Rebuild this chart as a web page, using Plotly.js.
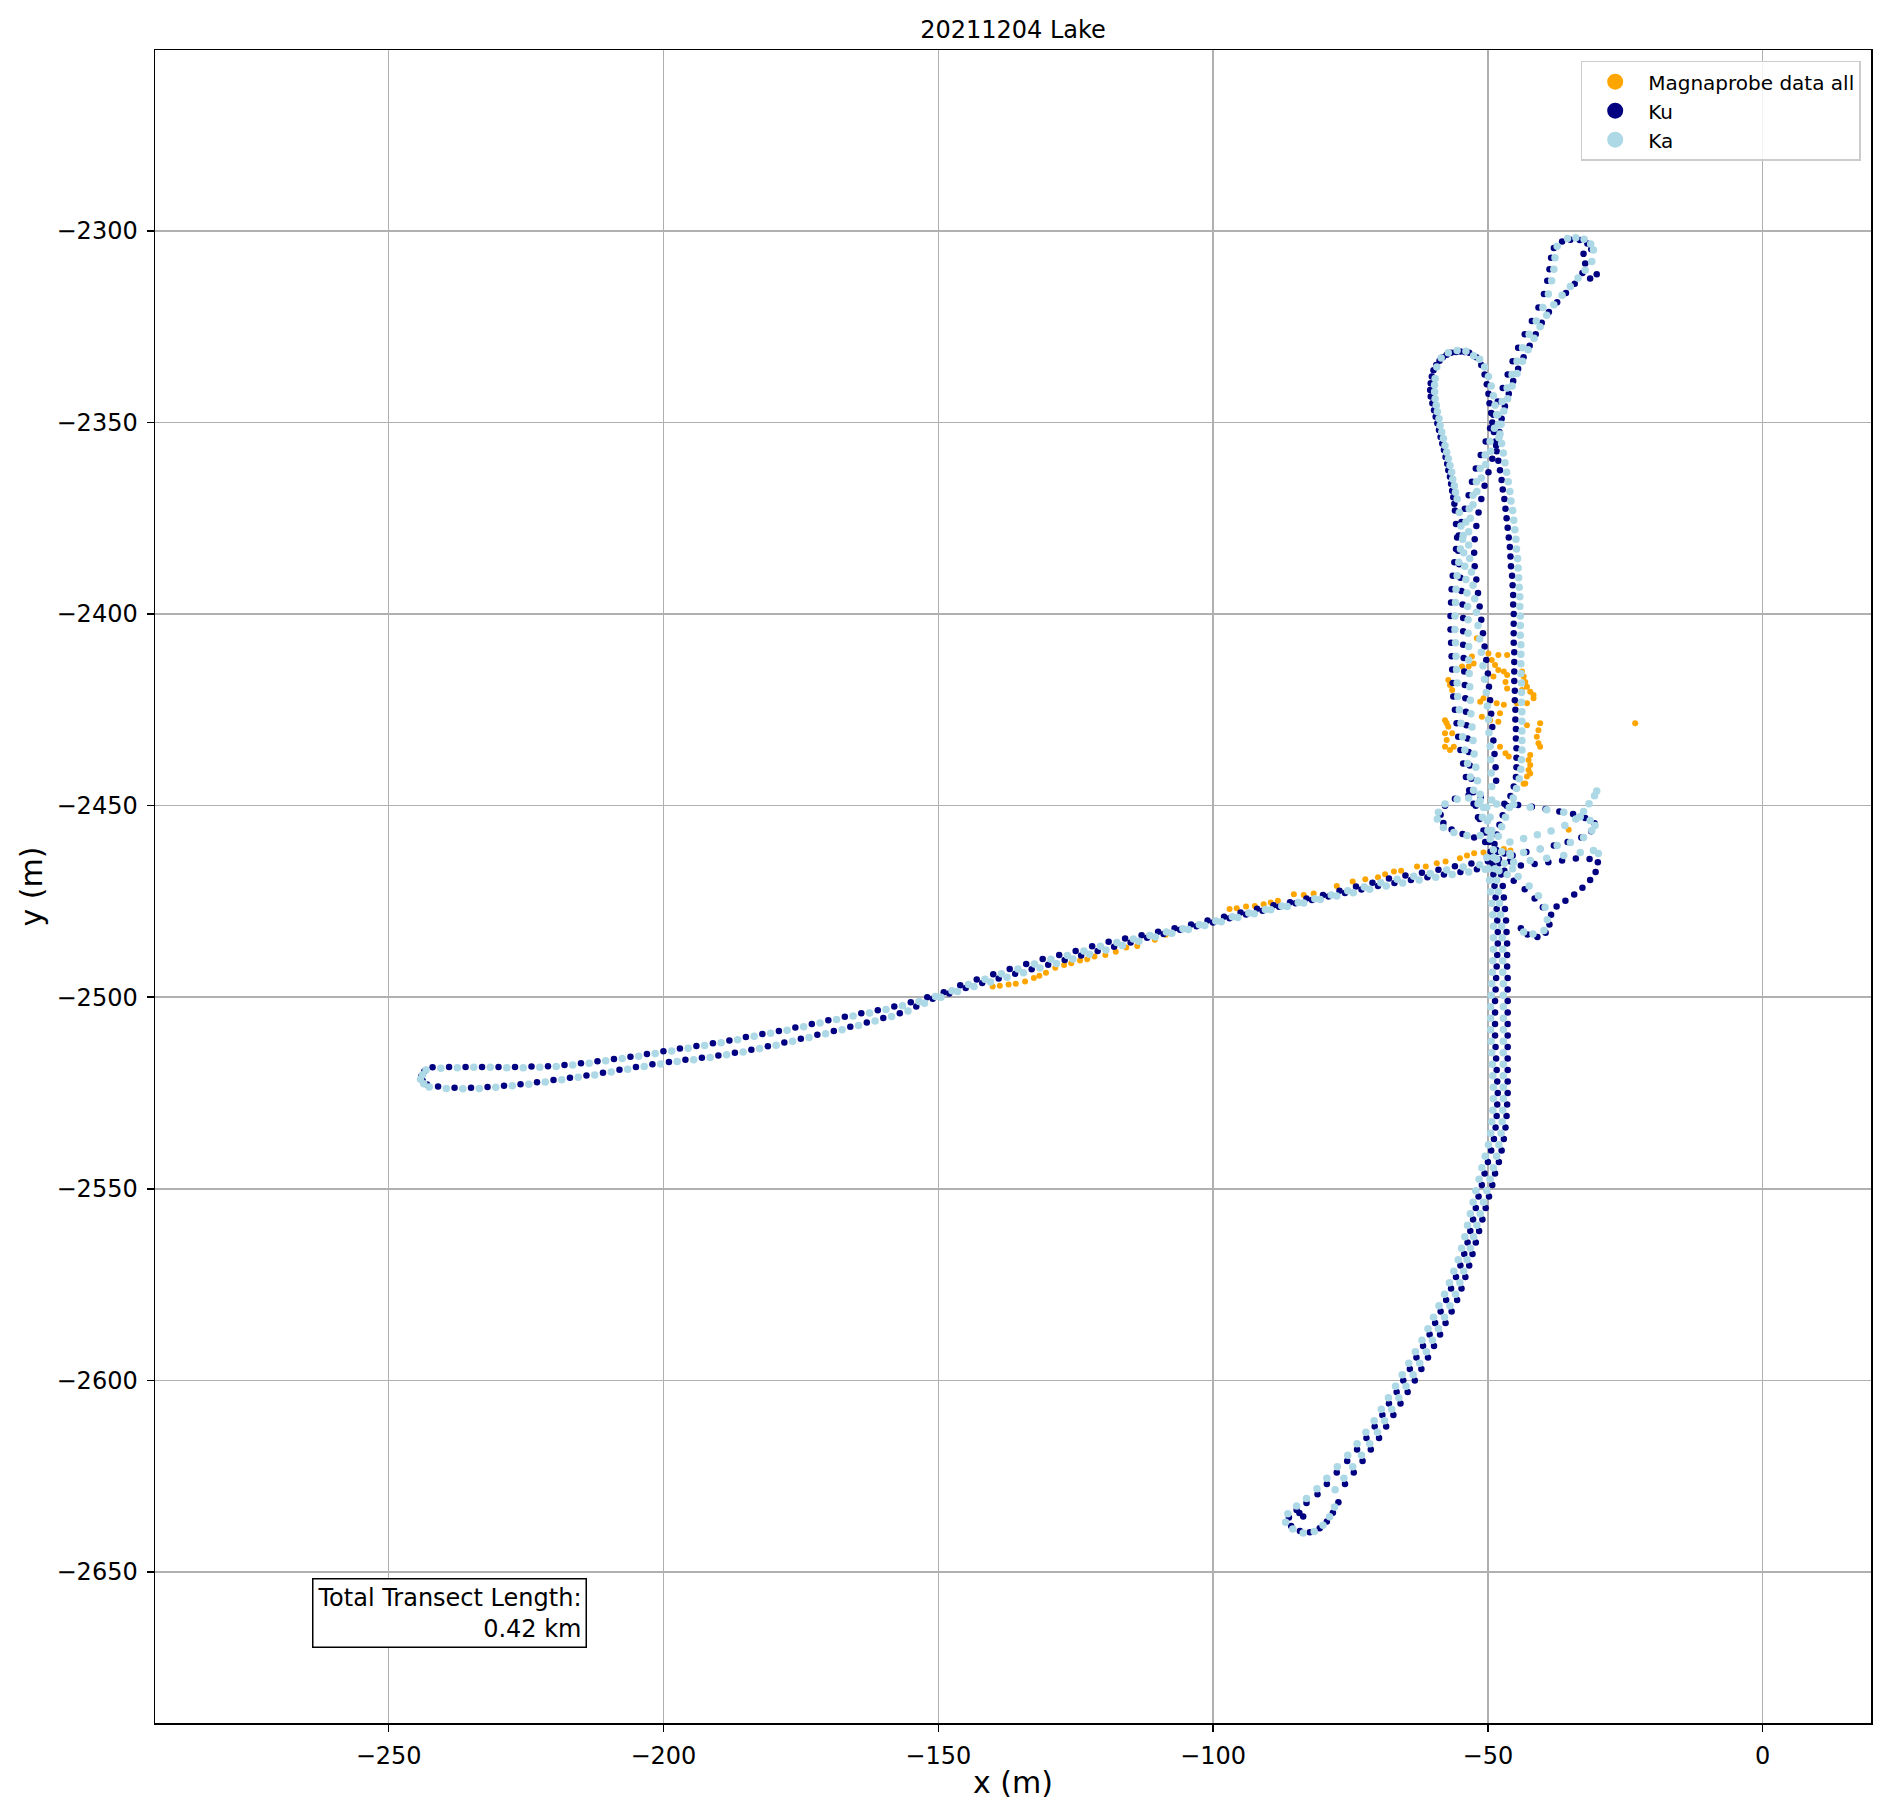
<!DOCTYPE html>
<html><head><meta charset="utf-8">
<script src="https://cdn.plot.ly/plotly-3.0.1.min.js"></script>
<style>html,body{margin:0;padding:0;background:#fff;}#chart{width:1892px;height:1817px;}</style>
</head><body><div id="chart"></div>
<script>
const chartTitle = '20211204 Lake';
const seriesNames = ['Magnaprobe data all', 'Ku', 'Ka'];
const seriesColors = ['#FFA500', '#000080', '#ADD8E6'];
const xTickVals = [-250, -200, -150, -100, -50, 0];
const xTickText = ['\u2212250', '\u2212200', '\u2212150', '\u2212100', '\u221250', '0'];
const yTickVals = [-2650, -2600, -2550, -2500, -2450, -2400, -2350, -2300];
const yTickText = ['\u22122650', '\u22122600', '\u22122550', '\u22122500', '\u22122450', '\u22122400', '\u22122350', '\u22122300'];
const noteText = 'Total Transect Length:<br>0.42 km';

// ---------- Magnaprobe points [x, y] ----------
const magArm = [[-140.1,-2497.2],[-138.8,-2497.0],[-137.2,-2496.7],[-135.9,-2496.5],[-134.2,-2495.9],[-132.6,-2495.0],[-131.6,-2494.4],[-130.4,-2493.6],[-128.7,-2492.3],[-127.1,-2491.6],[-125.8,-2491.1],[-124.2,-2490.4],[-122.9,-2490.1],[-121.6,-2489.4],[-119.6,-2489.0],[-117.7,-2488.1],[-115.8,-2487.0],[-113.8,-2486.6],[-110.6,-2485.0],[-108.6,-2483.7],[-97.0,-2477.0],[-95.7,-2476.8],[-94.0,-2476.3],[-92.4,-2476.2],[-90.8,-2475.7],[-89.5,-2475.3],[-88.2,-2474.8],[-85.3,-2473.1],[-83.5,-2473.3],[-81.7,-2472.9],[-77.5,-2471.0],[-74.6,-2469.8],[-72.3,-2469.2],[-70.0,-2468.7],[-68.7,-2467.9],[-67.1,-2467.2],[-65.8,-2467.0],[-62.9,-2465.9],[-61.3,-2465.9],[-59.3,-2465.0],[-57.7,-2464.6],[-55.1,-2463.7],[-53.8,-2463.0],[-52.5,-2462.4],[-50.8,-2462.2],[-47.1,-2461.3],[-45.9,-2461.7]];
const magCluster = [[-52.0,-2406.3],[-52.9,-2411.1],[-52.6,-2412.9],[-53.5,-2413.7],[-54.7,-2413.7],[-57.2,-2417.2],[-56.9,-2418.5],[-56.5,-2419.8],[-49.9,-2410.3],[-48.1,-2410.7],[-46.5,-2410.7],[-49.3,-2412.0],[-48.7,-2413.3],[-48.1,-2414.6],[-47.1,-2415.0],[-46.5,-2415.9],[-49.0,-2416.3],[-46.8,-2417.7],[-46.5,-2419.4],[-43.8,-2415.0],[-43.5,-2416.3],[-43.2,-2417.7],[-42.9,-2419.0],[-42.3,-2420.3],[-41.7,-2421.1],[-41.7,-2422.0],[-42.9,-2423.3],[-43.8,-2419.8],[-51.4,-2422.9],[-50.8,-2422.0],[-49.6,-2422.4],[-48.4,-2423.3],[-47.1,-2423.7],[-44.7,-2423.3],[-51.1,-2426.8],[-49.6,-2427.7],[-48.1,-2428.1],[-47.8,-2425.9],[-57.8,-2427.7],[-57.5,-2428.5],[-57.2,-2429.4],[-57.8,-2431.1],[-57.5,-2432.9],[-57.8,-2434.6],[-56.9,-2435.5],[-56.2,-2434.6],[-56.5,-2431.1],[-42.9,-2429.0],[-40.5,-2428.5],[-40.8,-2430.3],[-41.1,-2432.0],[-40.8,-2433.7],[-40.5,-2434.6],[-47.8,-2434.6],[-46.8,-2436.3],[-46.2,-2437.2],[-42.3,-2436.8],[-42.6,-2438.1],[-42.3,-2439.4],[-42.6,-2440.7],[-42.3,-2441.6],[-42.9,-2442.4],[-43.2,-2444.2],[-43.5,-2444.3],[-23.2,-2428.5],[-35.3,-2456.3]];

// ---------- Ku points [x, y] ----------
const kuLeftUpper = [[-50,-2464.5],[-53,-2465.1],[-56,-2465.8],[-59,-2466.7],[-62,-2467.5],[-65,-2468.2],[-68,-2469.0],[-71,-2470.1],[-74,-2471.1],[-77,-2472.2],[-80,-2473.3],[-83,-2474.2],[-86,-2475.2],[-89,-2476.0],[-92,-2476.9],[-95,-2477.9],[-98,-2479.0],[-101,-2480.0],[-104,-2481.0],[-107,-2482.0],[-110,-2482.9],[-113,-2483.8],[-116,-2484.7],[-119,-2485.5],[-122,-2486.7],[-125,-2487.9],[-128,-2489.0],[-131,-2490.0],[-134,-2491.3],[-137,-2492.6],[-140,-2494.0],[-143,-2495.4],[-146,-2496.9],[-149,-2498.7],[-152,-2500.0],[-155,-2501.3],[-158,-2502.4],[-161,-2503.4],[-164,-2504.2],[-167,-2505.1],[-170,-2506.0],[-173,-2507.0],[-176,-2507.9],[-179,-2508.8],[-182,-2509.6],[-185,-2510.4],[-188,-2511.3],[-191,-2512.0],[-194,-2512.7],[-197,-2513.4],[-200,-2514.1],[-203,-2514.8],[-206,-2515.5],[-209,-2516.1],[-212,-2516.7],[-215,-2517.2],[-218,-2517.7],[-221,-2518.0],[-224,-2518.1],[-227,-2518.2],[-230,-2518.2],[-233,-2518.2],[-236,-2518.2],[-239,-2518.2],[-242,-2518.3],[-243.5,-2519.3],[-244,-2520.5],[-243.8,-2521.8],[-243,-2522.8]];
const kuLeftLower = [[-241,-2523.3],[-238,-2523.6],[-235,-2523.6],[-232,-2523.4],[-229,-2523.1],[-226,-2522.7],[-223,-2522.2],[-220,-2521.6],[-217,-2521.0],[-214,-2520.4],[-211,-2519.7],[-208,-2518.9],[-205,-2518.2],[-202,-2517.5],[-199,-2516.9],[-196,-2516.3],[-193,-2515.8],[-190,-2515.2],[-187,-2514.5],[-184,-2513.7],[-181,-2512.8],[-178,-2511.8],[-175,-2510.8],[-172,-2509.8],[-169,-2508.8],[-166,-2507.7],[-163,-2506.6],[-160,-2505.4],[-157,-2504.2],[-154,-2502.4],[-151,-2500.4],[-148,-2499.0],[-145,-2497.6],[-142,-2496.3],[-139,-2495.1],[-136,-2493.9],[-133,-2492.7],[-130,-2491.5],[-127,-2490.3],[-124,-2489.1],[-121,-2487.9],[-118,-2486.8],[-115,-2485.7],[-112,-2484.5],[-109,-2483.5],[-106,-2482.4],[-103,-2481.5],[-100,-2480.5],[-97,-2479.4],[-94,-2478.4],[-91,-2477.4],[-88,-2476.4],[-85,-2475.5],[-82,-2474.6],[-79,-2473.7],[-76,-2472.8],[-73,-2471.9],[-70,-2471.0],[-67,-2470.2],[-64,-2469.4],[-61,-2468.7],[-58,-2468.0],[-55,-2467.3],[-52,-2466.6],[-49,-2466.0]];
const kuNorthWest = [[-36.5,-2302.8],[-38.0,-2304.5],[-38.5,-2307.0],[-38.8,-2310.0],[-39.2,-2313.0],[-39.8,-2316.5],[-40.8,-2320.0],[-42.0,-2323.5],[-43.3,-2327.0],[-44.5,-2330.5],[-45.5,-2334.0],[-46.4,-2337.5],[-47.3,-2341.0],[-48.2,-2344.5],[-49.0,-2348.0],[-49.6,-2351.5],[-50.4,-2355.0],[-51.3,-2358.5],[-52.2,-2362.0],[-52.9,-2365.5],[-53.5,-2369.0],[-54.2,-2372.5],[-54.8,-2376.0],[-55.3,-2379.5],[-55.8,-2383.0],[-56.1,-2386.5],[-56.4,-2390.0],[-56.6,-2393.5],[-56.7,-2397.0],[-56.8,-2400.5],[-56.8,-2404.0],[-56.7,-2407.5],[-56.6,-2411.0],[-56.5,-2414.5],[-56.4,-2418.0],[-56.3,-2421.5],[-56.0,-2425.0],[-55.7,-2428.5],[-55.4,-2432.0],[-55.0,-2435.5],[-54.5,-2439.0],[-54.0,-2442.5],[-53.4,-2446.0],[-52.6,-2449.5],[-51.8,-2453.0],[-50.8,-2456.5],[-49.8,-2459.5]];
const kuNorthEast = [[-35.0,-2302.3],[-33.3,-2302.4],[-31.9,-2303.3],[-31.2,-2304.8],[-32.6,-2306.0],[-32.3,-2308.5],[-32.8,-2311.0],[-31.4,-2312.4],[-30.2,-2311.3],[-34.2,-2313.8],[-35.8,-2316.2],[-37.4,-2318.6],[-38.9,-2321.2],[-40.2,-2324.0],[-41.3,-2327.0],[-42.4,-2330.0],[-43.5,-2333.0],[-44.5,-2336.0],[-45.4,-2339.2],[-46.2,-2342.5],[-46.9,-2345.8],[-47.5,-2349.0],[-47.9,-2352.5],[-48.5,-2356.0],[-49.2,-2359.5],[-49.9,-2363.0],[-50.6,-2366.5],[-51.2,-2370.0],[-51.7,-2373.5],[-52.1,-2377.0],[-52.4,-2380.5],[-52.5,-2384.0],[-52.4,-2387.5],[-52.1,-2391.0],[-51.8,-2394.5],[-51.5,-2398.0],[-51.2,-2401.5],[-50.9,-2405.0],[-50.6,-2408.5],[-50.3,-2412.0],[-50.0,-2415.5],[-49.8,-2419.0],[-49.6,-2422.5],[-49.4,-2426.0],[-49.2,-2429.5],[-49.0,-2433.0],[-48.8,-2436.5],[-48.6,-2440.0],[-48.5,-2443.5]];
const kuTallLeft = [[-50.5,-2457.0],[-51.5,-2453.5],[-52.2,-2450.0],[-52.7,-2446.5],[-53.0,-2443.0],[-53.3,-2439.5],[-53.5,-2436.0],[-53.7,-2432.5],[-53.9,-2429.0],[-54.0,-2425.5],[-54.1,-2422.0],[-54.2,-2418.5],[-54.3,-2415.0],[-54.4,-2411.5],[-54.5,-2408.0],[-54.5,-2404.5],[-54.5,-2401.0],[-54.6,-2397.5],[-54.8,-2394.0],[-55.0,-2390.5],[-55.2,-2387.0],[-55.4,-2383.5],[-55.6,-2380.0],[-55.8,-2376.5],[-56.0,-2373.0],[-56.3,-2369.5],[-56.7,-2366.0],[-57.2,-2362.5],[-57.7,-2359.0],[-58.3,-2355.5],[-58.9,-2352.0],[-59.5,-2348.5],[-60.1,-2345.0],[-60.5,-2341.5],[-60.2,-2338.0],[-59.4,-2335.0],[-58.2,-2333.0],[-56.7,-2331.8],[-55.0,-2331.5],[-53.4,-2331.8],[-52.1,-2333.0],
  [-56.1,-2371.2],[-56.5,-2367.8],[-56.9,-2364.2],[-57.4,-2360.8],[-58.0,-2357.2],[-58.6,-2353.8],[-59.2,-2350.2],[-59.8,-2346.8],[-60.4,-2343.2],[-60.4,-2339.8],[-59.9,-2336.4],[-58.8,-2333.9],[-57.5,-2332.3],[-55.8,-2331.6],[-54.2,-2331.6]];
const kuTallRight = [[-51.2,-2335.0],[-50.6,-2337.5],[-50.2,-2340.0],[-49.9,-2342.5],[-49.7,-2345.0],[-49.4,-2347.5],[-49.2,-2350.0],[-48.9,-2352.5],[-48.6,-2355.0],[-48.4,-2357.5],[-48.1,-2360.0],[-47.8,-2362.5],[-47.5,-2365.0],[-47.3,-2367.5],[-47.0,-2370.0],[-46.8,-2372.5],[-46.6,-2375.0],[-46.4,-2377.5],[-46.2,-2380.0],[-46.0,-2382.5],[-45.9,-2385.0],[-45.8,-2387.5],[-45.6,-2390.0],[-45.5,-2392.5],[-45.4,-2395.0],[-45.4,-2397.5],[-45.3,-2400.0],[-45.3,-2402.5],[-45.3,-2405.0],[-45.3,-2407.5],[-45.2,-2410.0],[-45.2,-2412.5],[-45.2,-2415.0],[-45.2,-2417.5],[-45.1,-2420.0],[-45.1,-2422.5],[-45.0,-2425.0],[-45.0,-2427.5],[-44.9,-2430.0],[-44.9,-2432.5],[-44.8,-2435.0],[-44.8,-2437.5],[-44.8,-2440.0],[-44.9,-2442.5],[-45.3,-2445.0],[-45.9,-2447.5],[-46.6,-2450.0],[-47.3,-2452.5],[-47.9,-2455.0],[-48.4,-2457.5],[-48.8,-2460.0]];
const kuJunction = [[-50.5,-2459.5],[-52.5,-2458.3],[-54.6,-2457.4],[-56.6,-2456.2],[-58.1,-2454.5],[-58.6,-2452.4],[-57.8,-2450.0],[-56.0,-2448.2],[-53.5,-2447.2],[-51.3,-2447.8],
  [-47.0,-2449.5],[-44.5,-2449.8],[-42.0,-2450.3],[-39.5,-2450.9],[-37.0,-2451.5],[-34.5,-2452.2],[-32.3,-2453.2],[-30.6,-2454.6],[-31.2,-2456.7],[-33.0,-2458.3],[-35.5,-2459.5],[-38.0,-2460.4],[-40.5,-2461.3],[-43.0,-2462.1],[-45.5,-2463.0],
  [-44.0,-2465.6],[-41.5,-2465.2],[-39.0,-2464.8],[-36.5,-2464.3],[-34.0,-2463.8],[-31.5,-2463.9],[-30.0,-2464.8],
  [-30.4,-2467.3],[-31.4,-2469.4],[-32.8,-2471.4],[-34.3,-2473.2],[-35.9,-2474.8],[-37.5,-2476.3],[-38.5,-2478.5],[-38.8,-2481.0],[-39.5,-2483.2],[-41.0,-2484.3],[-42.8,-2483.6],[-44.0,-2482.0],
  [-45.3,-2469.6],[-43.3,-2471.8],[-41.5,-2474.2],[-40.0,-2476.5],
  [-48.5,-2461.5],[-47.0,-2462.5],[-46.0,-2464.5],[-48.0,-2464.0],[-47.0,-2467.0]];
const kuSouthWest = [[-49.5,-2462],[-49.2,-2465],[-49.0,-2468],[-48.8,-2471],[-48.6,-2474],[-48.4,-2477],[-48.3,-2480],[-48.2,-2483],[-48.2,-2486],[-48.3,-2489],[-48.4,-2492],[-48.5,-2495],[-48.6,-2498],[-48.7,-2501],[-48.7,-2504],[-48.7,-2507],[-48.7,-2510],[-48.6,-2513],[-48.5,-2516],[-48.4,-2519],[-48.3,-2522],[-48.2,-2525],[-48.3,-2528],[-48.4,-2531],[-48.6,-2534],[-48.9,-2537],[-49.4,-2540],[-50.0,-2543],[-50.6,-2546],[-51.1,-2549],[-51.7,-2552],[-52.2,-2555],[-52.7,-2558],[-53.2,-2561],[-53.7,-2564],[-54.3,-2567],[-55.0,-2570],[-55.8,-2573],[-56.7,-2576],[-57.6,-2579],[-58.6,-2582],[-59.6,-2585],[-60.6,-2588],[-61.8,-2591],[-63.0,-2594],[-64.2,-2597],[-65.4,-2600],[-66.6,-2603],[-68.0,-2606],[-69.2,-2609],[-70.6,-2612],[-72.1,-2615],[-73.8,-2618],[-75.6,-2621],[-77.5,-2624],[-79.3,-2627],[-81.0,-2629.7],[-83.0,-2632],[-84.8,-2633.8],[-86.2,-2635.8],[-85.8,-2638],[-84.2,-2639.3],[-82.4,-2639.6],[-80.6,-2638.6],[-79.3,-2636.8],[-78.2,-2634.5],[-77.2,-2631.8],[-84.3,-2634.6],[-83.6,-2635.5]];
const kuSouthEast = [[-76.0,-2627],[-74.4,-2624],[-72.8,-2621],[-71.3,-2618],[-69.8,-2615],[-68.5,-2612],[-67.2,-2609],[-65.9,-2606],[-64.6,-2603],[-63.3,-2600],[-62.1,-2597],[-60.9,-2594],[-59.8,-2591],[-58.7,-2588],[-57.7,-2585],[-56.6,-2582],[-55.6,-2579],[-54.8,-2576],[-54.1,-2573],[-53.4,-2570],[-52.8,-2567],[-52.2,-2564],[-51.6,-2561],[-51.0,-2558],[-50.4,-2555],[-49.8,-2552],[-49.2,-2549],[-48.7,-2546],[-48.0,-2543],[-47.5,-2540],[-47.1,-2537],[-46.8,-2534],[-46.6,-2531],[-46.5,-2528],[-46.4,-2525],[-46.4,-2522],[-46.4,-2519],[-46.4,-2516],[-46.4,-2513],[-46.4,-2510],[-46.4,-2507],[-46.4,-2504],[-46.4,-2501],[-46.4,-2498],[-46.4,-2495],[-46.5,-2492],[-46.5,-2489],[-46.5,-2486],[-46.6,-2483],[-46.7,-2480],[-46.9,-2477],[-47.1,-2474],[-47.3,-2471],[-47.6,-2468],[-47.9,-2465],[-48.2,-2462]];

// ---------- Ka points [x, y] ----------
const kaLeftUpper = [[-51.5,-2465.4],[-54.5,-2466.0],[-57.5,-2466.8],[-60.5,-2467.7],[-63.5,-2468.4],[-66.5,-2469.2],[-69.5,-2470.1],[-72.5,-2471.2],[-75.5,-2472.2],[-78.5,-2473.3],[-81.5,-2474.3],[-84.5,-2475.3],[-87.5,-2476.2],[-90.5,-2477.1],[-93.5,-2478.0],[-96.5,-2479.0],[-99.5,-2480.1],[-102.5,-2481.1],[-105.5,-2482.1],[-108.5,-2483.0],[-111.5,-2483.9],[-114.5,-2484.8],[-117.5,-2485.7],[-120.5,-2486.7],[-123.5,-2487.9],[-126.5,-2489.1],[-129.5,-2490.1],[-132.5,-2491.3],[-135.5,-2492.6],[-138.5,-2493.9],[-141.5,-2495.3],[-144.5,-2496.7],[-147.5,-2498.3],[-150.5,-2499.8],[-153.5,-2501.1],[-156.5,-2502.2],[-159.5,-2503.2],[-162.5,-2504.1],[-165.5,-2504.9],[-168.5,-2505.8],[-171.5,-2506.7],[-174.5,-2507.7],[-177.5,-2508.6],[-180.5,-2509.4],[-183.5,-2510.2],[-186.5,-2511.1],[-189.5,-2511.9],[-192.5,-2512.6],[-195.5,-2513.3],[-198.5,-2514.0],[-201.5,-2514.7],[-204.5,-2515.4],[-207.5,-2516.0],[-210.5,-2516.6],[-213.5,-2517.2],[-216.5,-2517.7],[-219.5,-2518.1],[-222.5,-2518.3],[-225.5,-2518.4],[-228.5,-2518.4],[-231.5,-2518.3],[-234.5,-2518.3],[-237.5,-2518.4],[-240.5,-2518.5],[-243.2,-2519.0],[-243.8,-2520.2],[-244.2,-2521.4],[-243.6,-2522.6],[-242.6,-2523.4]];
const kaLeftLower = [[-239.5,-2523.8],[-236.5,-2523.9],[-233.5,-2523.8],[-230.5,-2523.5],[-227.5,-2523.1],[-224.5,-2522.7],[-221.5,-2522.1],[-218.5,-2521.5],[-215.5,-2520.9],[-212.5,-2520.3],[-209.5,-2519.5],[-206.5,-2518.8],[-203.5,-2518.1],[-200.5,-2517.4],[-197.5,-2516.8],[-194.5,-2516.3],[-191.5,-2515.7],[-188.5,-2515.0],[-185.5,-2514.3],[-182.5,-2513.4],[-179.5,-2512.5],[-176.5,-2511.5],[-173.5,-2510.5],[-170.5,-2509.5],[-167.5,-2508.5],[-164.5,-2507.4],[-161.5,-2506.2],[-158.5,-2505.0],[-155.5,-2503.6],[-152.5,-2501.6],[-149.5,-2500.0],[-146.5,-2498.5],[-143.5,-2497.2],[-140.5,-2496.0],[-137.5,-2494.8],[-134.5,-2493.6],[-131.5,-2492.4],[-128.5,-2491.2],[-125.5,-2490.0],[-122.5,-2488.8],[-119.5,-2487.7],[-116.5,-2486.5],[-113.5,-2485.4],[-110.5,-2484.3],[-107.5,-2483.3],[-104.5,-2482.3],[-101.5,-2481.3],[-98.5,-2480.3],[-95.5,-2479.2],[-92.5,-2478.2],[-89.5,-2477.2],[-86.5,-2476.3],[-83.5,-2475.4],[-80.5,-2474.5],[-77.5,-2473.6],[-74.5,-2472.7],[-71.5,-2471.8],[-68.5,-2471.0],[-65.5,-2470.2],[-62.5,-2469.4],[-59.5,-2468.7],[-56.5,-2468.0],[-53.5,-2467.3],[-50.5,-2466.6]];
const kaNorthWest = [[-37.4,-2304.0],[-37.8,-2307.0],[-38.0,-2310.0],[-38.4,-2313.0],[-39.0,-2316.5],[-40.0,-2320.0],[-41.2,-2323.5],[-42.5,-2327.0],[-43.7,-2330.5],[-44.7,-2334.0],[-45.6,-2337.5],[-46.5,-2341.0],[-47.4,-2344.5],[-48.2,-2348.0],[-48.8,-2351.5],[-49.6,-2355.0],[-50.5,-2358.5],[-51.4,-2362.0],[-52.1,-2365.5],[-52.7,-2369.0],[-53.4,-2372.5],[-54.0,-2376.0],[-54.5,-2379.5],[-55.0,-2383.0],[-55.3,-2386.5],[-55.6,-2390.0],[-55.8,-2393.5],[-55.9,-2397.0],[-56.0,-2400.5],[-56.0,-2404.0],[-55.9,-2407.5],[-55.8,-2411.0],[-55.7,-2414.5],[-55.6,-2418.0],[-55.5,-2421.5],[-55.2,-2425.0],[-54.9,-2428.5],[-54.6,-2432.0],[-54.2,-2435.5],[-53.7,-2439.0],[-53.2,-2442.5],[-52.6,-2446.0],[-51.8,-2449.5],[-51.0,-2453.0],[-50.0,-2456.5]];
const kaNorthEast = [[-35.5,-2302.0],[-34.0,-2301.8],[-32.5,-2302.2],[-31.3,-2303.4],[-30.8,-2305.0],[-31.1,-2308.0],[-32.3,-2310.3],[-33.6,-2312.3],[-35.0,-2314.5],[-36.5,-2316.8],[-38.0,-2319.3],[-39.3,-2322.0],[-40.5,-2325.0],[-41.6,-2328.0],[-42.7,-2331.0],[-43.7,-2334.0],[-44.7,-2337.2],[-45.6,-2340.5],[-46.4,-2343.8],[-47.1,-2347.0],[-47.6,-2350.5],[-48.0,-2354.0],[-49.5,-2357.5],[-50.4,-2361.0],[-51.2,-2364.5],[-52.0,-2368.0],[-52.7,-2371.5],[-53.2,-2375.0],[-53.5,-2378.5],[-53.5,-2382.0],[-53.3,-2385.5],[-53.0,-2389.0],[-52.7,-2392.5],[-52.4,-2396.0],[-52.1,-2399.5],[-51.8,-2403.0],[-51.5,-2406.5],[-51.2,-2410.0],[-50.9,-2413.5],[-50.6,-2417.0],[-50.3,-2420.5],[-50.1,-2424.0],[-49.9,-2427.5],[-49.8,-2431.0],[-49.6,-2434.5],[-49.5,-2438.0],[-49.4,-2441.5],[-49.3,-2445.0],[-49.3,-2448.5]];
const kaTallLeft = [[-52.6,-2332.6],[-54.0,-2331.4],[-55.6,-2331.2],[-57.2,-2331.8],[-58.5,-2333.2],[-59.3,-2335.5],[-59.6,-2338.5],[-59.7,-2342.0],[-59.4,-2345.5],[-58.9,-2349.0],[-58.4,-2352.5],[-57.8,-2356.0],[-57.2,-2359.5],[-56.6,-2363.0],[-56.1,-2366.5],[-55.6,-2370.0],[-55.2,-2373.5],[-54.9,-2377.0],[-54.6,-2380.5],[-54.4,-2384.0],[-54.2,-2387.5],[-54.0,-2391.0],[-53.8,-2394.5],[-53.7,-2398.0],[-53.6,-2401.5],[-53.6,-2405.0],[-53.5,-2408.5],[-53.5,-2412.0],[-53.4,-2415.5],[-53.3,-2419.0],[-53.2,-2422.5],[-53.1,-2426.0],[-52.9,-2429.5],[-52.7,-2433.0],[-52.5,-2436.5],[-52.2,-2440.0],[-51.9,-2443.5],[-51.4,-2447.0],[-50.8,-2450.5],[-50.1,-2454.0],[-49.4,-2457.5],
  [-59.7,-2340.2],[-59.6,-2343.8],[-59.2,-2347.2],[-58.7,-2350.8],[-58.1,-2354.2],[-57.5,-2357.8],[-56.9,-2361.2],[-56.4,-2364.8],[-55.9,-2368.2]];
const kaTallRight = [[-51.5,-2333.5],[-50.6,-2335.5],[-49.9,-2338.0],[-49.4,-2340.5],[-49.0,-2343.0],[-48.7,-2345.5],[-48.4,-2348.0],[-48.1,-2350.5],[-47.8,-2353.0],[-47.5,-2355.5],[-47.2,-2358.0],[-46.9,-2360.5],[-46.6,-2363.0],[-46.3,-2365.5],[-46.0,-2368.0],[-45.8,-2370.5],[-45.5,-2373.0],[-45.3,-2375.5],[-45.1,-2378.0],[-44.9,-2380.5],[-44.8,-2383.0],[-44.6,-2385.5],[-44.5,-2388.0],[-44.4,-2390.5],[-44.3,-2393.0],[-44.2,-2395.5],[-44.2,-2398.0],[-44.1,-2400.5],[-44.1,-2403.0],[-44.1,-2405.5],[-44.0,-2408.0],[-44.0,-2410.5],[-44.0,-2413.0],[-44.0,-2415.5],[-43.9,-2418.0],[-43.9,-2420.5],[-43.9,-2423.0],[-43.8,-2425.5],[-43.8,-2428.0],[-43.8,-2430.5],[-43.8,-2433.0],[-43.8,-2435.5],[-43.9,-2438.0],[-44.0,-2440.5],[-44.3,-2443.0],[-44.8,-2445.5],[-45.4,-2448.0],[-46.1,-2450.5],[-46.8,-2453.0],[-47.5,-2455.5],[-48.1,-2458.0]];
const kaJunction = [[-49.6,-2458.7],[-51.4,-2457.8],[-53.8,-2457.8],[-56.2,-2457.0],[-58.1,-2455.7],[-59.2,-2453.5],[-59.0,-2451.7],[-57.8,-2449.6],[-55.6,-2448.3],[-53.5,-2448.0],[-51.4,-2448.7],[-50.2,-2450.4],[-49.6,-2453.0],[-49.3,-2456.5],
  [-48.4,-2449.6],[-45.3,-2449.7],[-42.3,-2450.4],[-39.3,-2451.1],[-36.2,-2451.7],[-33.2,-2452.9],[-31.4,-2453.9],[-30.5,-2455.2],[-31.1,-2456.5],[-32.6,-2458.3],[-35.0,-2459.6],[-37.4,-2460.4],[-40.5,-2461.3],[-43.5,-2462.2],[-45.9,-2463.0],[-48.4,-2463.9],
  [-46.0,-2459.5],[-43.5,-2458.6],[-41.0,-2457.6],[-38.5,-2456.6],[-36.0,-2455.2],[-34.0,-2453.5],[-32.6,-2451.5],[-31.6,-2449.5],[-30.6,-2447.4],[-30.2,-2446.2],
  [-45.3,-2464.8],[-42.3,-2464.3],[-39.3,-2463.7],[-36.2,-2463.0],[-33.2,-2462.2],[-30.8,-2461.7],[-29.9,-2462.5],
  [-44.5,-2468.5],[-42.5,-2471.0],[-40.8,-2473.5],[-39.6,-2476.5],[-39.2,-2479.8],[-39.8,-2482.6],[-41.8,-2483.5],[-43.5,-2483.0],
  [-49.0,-2461.5],[-47.5,-2462.0],[-46.0,-2462.5],[-48.5,-2464.0],[-47.0,-2465.0],[-45.5,-2466.5],[-48.0,-2467.0],[-46.5,-2468.0]];
const kaSouthWest = [[-50.2,-2463.5],[-49.9,-2466.5],[-49.7,-2469.5],[-49.5,-2472.5],[-49.3,-2475.5],[-49.1,-2478.5],[-49.0,-2481.5],[-49.0,-2484.5],[-49.0,-2487.5],[-49.1,-2490.5],[-49.2,-2493.5],[-49.3,-2496.5],[-49.4,-2499.5],[-49.5,-2502.5],[-49.5,-2505.5],[-49.5,-2508.5],[-49.4,-2511.5],[-49.3,-2514.5],[-49.2,-2517.5],[-49.1,-2520.5],[-49.0,-2523.5],[-49.0,-2526.5],[-49.1,-2529.5],[-49.3,-2532.5],[-49.5,-2535.5],[-49.9,-2538.5],[-50.5,-2541.5],[-51.1,-2544.5],[-51.6,-2547.5],[-52.2,-2550.5],[-52.7,-2553.5],[-53.2,-2556.5],[-53.7,-2559.5],[-54.2,-2562.5],[-54.8,-2565.5],[-55.4,-2568.5],[-56.2,-2571.5],[-57.0,-2574.5],[-57.9,-2577.5],[-58.9,-2580.5],[-59.9,-2583.5],[-60.9,-2586.5],[-62.0,-2589.5],[-63.2,-2592.5],[-64.4,-2595.5],[-65.6,-2598.5],[-66.8,-2601.5],[-68.1,-2604.5],[-69.4,-2607.5],[-70.7,-2610.5],[-72.2,-2613.5],[-73.8,-2616.5],[-75.5,-2619.5],[-77.4,-2622.5],[-79.3,-2625.5],[-81.1,-2628.3],[-83.0,-2630.8],[-84.8,-2632.8],[-86.4,-2634.8],[-86.8,-2637.0],[-85.5,-2638.8],[-83.6,-2639.8],[-81.6,-2639.4],[-80.0,-2637.8],[-78.8,-2635.6],[-77.9,-2633.0]];
const kaSouthEast = [[-77.8,-2628.5],[-76.2,-2625.5],[-74.6,-2622.5],[-73.0,-2619.5],[-71.5,-2616.5],[-70.1,-2613.5],[-68.8,-2610.5],[-67.5,-2607.5],[-66.2,-2604.5],[-64.9,-2601.5],[-63.6,-2598.5],[-62.4,-2595.5],[-61.2,-2592.5],[-60.1,-2589.5],[-59.0,-2586.5],[-57.9,-2583.5],[-56.9,-2580.5],[-55.9,-2577.5],[-55.1,-2574.5],[-54.4,-2571.5],[-53.8,-2568.5],[-53.2,-2565.5],[-52.6,-2562.5],[-52.0,-2559.5],[-51.4,-2556.5],[-50.8,-2553.5],[-50.2,-2550.5],[-49.6,-2547.5],[-49.0,-2544.5],[-48.4,-2541.5],[-48.0,-2538.5],[-47.6,-2535.5],[-47.4,-2532.5],[-47.3,-2529.5],[-47.2,-2526.5],[-47.2,-2523.5],[-47.2,-2520.5],[-47.2,-2517.5],[-47.2,-2514.5],[-47.2,-2511.5],[-47.2,-2508.5],[-47.2,-2505.5],[-47.2,-2502.5],[-47.2,-2499.5],[-47.2,-2496.5],[-47.3,-2493.5],[-47.3,-2490.5],[-47.3,-2487.5],[-47.4,-2484.5],[-47.5,-2481.5],[-47.7,-2478.5],[-47.9,-2475.5],[-48.1,-2472.5],[-48.4,-2469.5],[-48.7,-2466.5],[-49.0,-2463.5]];

const magPts = [].concat(magArm, magCluster);
const kuPts = [].concat(kuLeftUpper, kuLeftLower, kuNorthWest, kuNorthEast, kuTallLeft, kuTallRight, kuJunction, kuSouthWest, kuSouthEast);
const kaPts = [].concat(kaLeftUpper, kaLeftLower, kaNorthWest, kaNorthEast, kaTallLeft, kaTallRight, kaJunction, kaSouthWest, kaSouthEast);

const xs = a => a.map(p => p[0]);
const ys = a => a.map(p => p[1]);

const dataSets = [magPts, kuPts, kaPts];
const dotSizes = [6, 6.5, 7.5];

const traces = dataSets.map((pts, i) => ({
  type:'scatter', mode:'markers', name:seriesNames[i], x:xs(pts), y:ys(pts),
  marker:{color:seriesColors[i], size:dotSizes[i], line:{width:0}}, hoverinfo:'skip',
  showlegend:false, legendgroup:seriesNames[i]
}));
// legend entries (larger legend markers, as in the reference legend)
seriesNames.forEach((n, i) => traces.push({
  type:'scatter', mode:'markers', name:n, x:[null], y:[null],
  marker:{color:seriesColors[i], size:16, line:{width:0}}, showlegend:true, legendgroup:n, hoverinfo:'skip'
}));

const axisBase = {
  ticks:'outside', ticklen:7, tickwidth:1.5, tickcolor:'black',
  showgrid:true, gridcolor:'#b0b0b0', gridwidth:1.5, zeroline:false,
  showline:true, linecolor:'black', linewidth:1.5, mirror:true,
  tickfont:{size:24, color:'black'}, automargin:false, ticklabelstandoff:4
};

const layout = {
  width:1892, height:1817,
  margin:{l:155, r:21, t:50, b:94, pad:0},
  paper_bgcolor:'white', plot_bgcolor:'white',
  font:{family:'DejaVu Sans, sans-serif', size:24, color:'black'},
  title:{text:chartTitle, font:{size:24, color:'black'}, x:0.5, xref:'paper', xanchor:'center',
         y:1 - 30/1817, yref:'container', yanchor:'middle'},
  xaxis:Object.assign({}, axisBase, {range:[-292.5, 19.7], tickvals:xTickVals, ticktext:xTickText,
         title:{text:'x (m)', font:{size:30}, standoff:2}}),
  yaxis:Object.assign({}, axisBase, {range:[-2689.4, -2252.8], tickvals:yTickVals, ticktext:yTickText,
         title:{text:'y (m)', font:{size:30}, standoff:5}}),
  showlegend:true,
  legend:{x:0.994, xanchor:'right', y:0.9936, yanchor:'top', bgcolor:'rgba(255,255,255,0.85)',
          bordercolor:'#cccccc', borderwidth:1.5, font:{size:20}, itemsizing:'trace', itemwidth:56, tracegroupgap:0},
  annotations:[{xref:'paper', yref:'paper', x:0.1718, y:0.0655, xanchor:'center', yanchor:'middle',
    text:noteText, align:'right', showarrow:false, font:{size:24, color:'black'},
    bordercolor:'black', borderwidth:1.5, borderpad:4, bgcolor:'white'}]
};

Plotly.newPlot('chart', traces, layout, {displayModeBar:false, staticPlot:true});
</script></body></html>
